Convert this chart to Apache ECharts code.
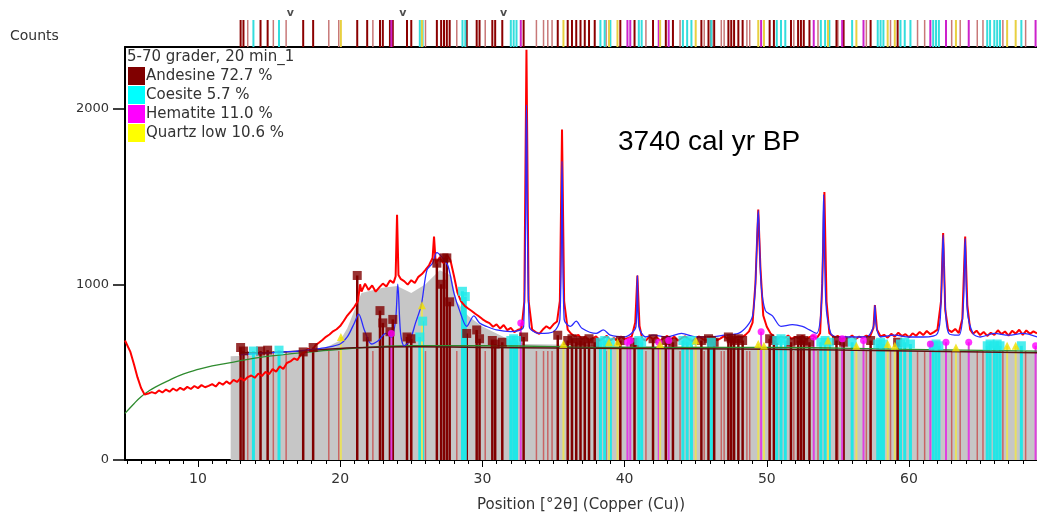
<!DOCTYPE html>
<html>
<head>
<meta charset="utf-8">
<script src="https://cdn.jsdelivr.net/npm/echarts@6/dist/echarts.min.js"></script>
<style>
  html, body { margin: 0; padding: 0; background: #fff; }
  #chart { width: 1037px; height: 515px; }
</style>
</head>
<body>
<div id="chart"></div>
<script>
'use strict';

var xTickLabels = [10, 20, 30, 40, 50, 60];
var yTickLabels = [0, 1000, 2000];

// observed counts (red)
var observed = [
  [4.87,680],[5.0,670],[5.25,615],[5.5,545],[5.75,470],[6.0,410],[6.25,372],[6.5,378],[6.75,386],[7.0,379],
  [7.25,396],[7.5,384],[7.75,401],[8.0,389],[8.25,407],[8.5,394],[8.75,411],[9.0,399],[9.25,416],[9.5,404],
  [9.75,421],[10.0,409],[10.25,426],[10.5,414],[10.75,422],[11.0,432],[11.25,418],[11.5,441],[11.75,428],[12.0,447],
  [12.25,433],[12.5,456],[12.75,444],[13.0,466],[13.25,452],[13.5,472],[13.75,481],[14.0,468],[14.25,492],[14.5,478],
  [14.75,501],[15.0,488],[15.25,517],[15.5,503],[15.75,533],[16.0,518],[16.25,552],[16.5,561],[16.75,578],[17.0,569],
  [17.25,602],[17.5,612],[17.75,633],[18.0,619],[18.25,652],[18.5,667],[18.75,683],[19.0,701],[19.25,714],[19.5,732],
  [19.75,744],[20.0,762],[20.25,791],[20.5,822],[20.75,846],[21.0,872],[21.25,905],[21.4,1000],[21.5,958],[21.75,1003],
  [22.0,968],[22.25,993],[22.5,958],[22.75,982],[23.0,1004],[23.25,987],[23.5,1022],[23.75,1008],[23.9,1045],[24.0,1395],
  [24.1,1052],[24.25,1031],[24.5,1018],[24.75,998],[25.0,1023],[25.25,1007],[25.5,1042],[25.75,1058],[26.0,1082],[26.25,1108],
  [26.5,1150],[26.6,1272],[26.7,1142],[26.75,1118],[27.0,1153],[27.25,1121],[27.5,1168],[27.75,1138],[28.0,1048],[28.25,952],
  [28.5,902],[28.75,878],[29.0,862],[29.25,848],[29.5,832],[29.75,818],[30.0,802],[30.25,788],[30.5,779],[30.75,758],
  [31.0,772],[31.25,748],[31.5,768],[31.75,739],[32.0,752],[32.25,728],[32.5,741],[32.75,746],[32.95,900],[33.1,2335],
  [33.25,905],[33.5,742],[33.75,728],[34.0,718],[34.25,742],[34.5,761],[34.75,748],[35.0,772],[35.25,788],[35.45,905],
  [35.6,1880],[35.75,902],[36.0,742],[36.25,718],[36.5,703],[36.75,712],[37.0,688],[37.25,702],[37.5,679],[37.75,693],
  [38.0,704],[38.25,678],[38.5,692],[38.75,706],[39.0,681],[39.25,694],[39.5,676],[39.75,703],[40.0,688],[40.25,694],
  [40.5,702],[40.75,782],[40.9,1050],[41.05,762],[41.25,688],[41.5,679],[41.75,703],[42.0,687],[42.25,701],[42.5,678],
  [42.75,694],[43.0,706],[43.25,686],[43.5,702],[43.75,679],[44.0,693],[44.25,704],[44.5,688],[44.75,677],[45.0,692],
  [45.25,703],[45.5,687],[45.75,679],[46.0,694],[46.25,702],[46.5,681],[46.75,692],[47.0,705],[47.25,688],[47.5,679],
  [47.75,693],[48.0,703],[48.25,698],[48.5,712],[48.75,732],[49.0,782],[49.2,1002],[49.4,1425],[49.55,1098],[49.75,822],
  [50.0,758],[50.25,722],[50.5,703],[50.75,688],[51.0,702],[51.25,694],[51.5,708],[51.75,689],[52.0,701],[52.25,692],
  [52.5,707],[52.75,686],[53.0,699],[53.25,708],[53.5,691],[53.75,722],[53.9,1005],[54.05,1525],[54.2,902],[54.4,721],
  [54.75,698],[55.0,706],[55.25,688],[55.5,701],[55.75,694],[56.0,708],[56.25,689],[56.5,702],[56.75,696],[57.0,707],
  [57.25,701],[57.5,752],[57.6,882],[57.75,741],[58.0,703],[58.25,712],[58.5,696],[58.75,718],[59.0,702],[59.25,724],
  [59.5,705],[59.75,716],[60.0,698],[60.25,721],[60.5,707],[60.75,729],[61.0,711],[61.25,734],[61.5,716],[61.75,728],
  [62.0,742],[62.25,902],[62.4,1292],[62.55,852],[62.75,742],[63.0,728],[63.25,746],[63.5,722],[63.75,802],[63.95,1272],
  [64.1,882],[64.3,742],[64.5,718],[64.75,736],[65.0,711],[65.25,729],[65.5,706],[65.75,724],[66.0,712],[66.25,738],
  [66.5,716],[66.75,731],[67.0,708],[67.25,735],[67.5,719],[67.75,741],[68.0,712],[68.25,737],[68.5,718],[68.75,732],
  [69.0,721]
];

// calculated profile (blue)
var calculated = [
  [13,600],[14,605],[15,610],[16,615],[17,620],[18,630],[19,640],[20,660],[20.5,700],[21.0,780],
  [21.3,830],[21.7,740],[22.2,660],[22.7,680],[23.2,720],[23.6,700],[23.9,800],[24.05,1000],[24.25,720],[24.5,650],
  [24.9,680],[25.3,780],[25.7,880],[26.1,1080],[26.5,1120],[26.8,1180],[27.2,1150],[27.6,1100],[28.0,950],[28.4,850],
  [28.9,760],[29.4,820],[29.8,780],[30.3,760],[31,740],[32,730],[32.9,760],[33.1,2020],[33.3,760],[34,720],
  [35,730],[35.45,800],[35.6,1700],[35.75,800],[36.2,760],[36.6,790],[37,750],[38,720],[38.5,740],[39,710],
  [40,700],[40.8,760],[40.9,1050],[41.0,760],[41.5,700],[42,710],[43,700],[44,720],[45,700],[46,700],
  [47,710],[48,720],[48.6,760],[49.0,820],[49.2,1000],[49.4,1420],[49.6,1000],[49.9,850],[50.4,820],[51,760],
  [51.8,770],[52.5,760],[53.0,740],[53.5,720],[53.85,900],[54.0,1510],[54.15,900],[54.5,720],[55,700],[56,700],
  [57,700],[57.5,760],[57.6,880],[57.7,760],[58,700],[59,710],[60,700],[61,700],[62,720],[62.25,900],
  [62.4,1280],[62.55,880],[62.8,720],[63.5,710],[63.8,850],[63.95,1260],[64.1,850],[64.5,720],[65,700],[66,720],
  [67,710],[68,720],[69,700]
];

var greenBackground = [
  [4.87,265],[5.5,320],[6,360],[6.5,390],[7,415],[8,455],[9,490],[10,515],[11,535],[12,550],
  [13,565],[14,580],[16,600],[18,615],[20,630],[25,650],[30,650],[40,640],[50,640],[60,630],[69,620]
];
var darkBackground = [
  [13,610],[16,615],[20,635],[25,645],[30,640],[40,635],[50,630],[60,620],[69,610]
];
var greyFill = [
  [12.3,590],[16,600],[19,640],[20,680],[20.5,750],[21,850],[21.5,950],[22,960],[23,980],[24,990],
  [25,950],[26,1000],[27,1080],[27.8,1050],[28.2,900],[29,820],[30,760],[31,720],[32,680],[33,660],
  [40,650],[50,640],[60,630],[69,610]
];

// reference patterns: [position, top]
var andesine = [
  [13.0,640],[13.2,620],[14.4,620],[14.9,625],[17.4,615],[18.1,640],[21.2,1050],[21.9,700],[22.8,850],[23.0,780],
  [23.5,730],[23.7,800],[24.7,700],[25.0,690],[26.8,1120],[27.1,1000],[27.3,1150],[27.5,1150],[27.7,900],[28.9,720],
  [29.6,740],[29.8,690],[30.7,680],[30.9,660],[31.4,670],[32.9,700],[35.3,710],[36.0,680],[36.3,690],[36.6,670],
  [36.9,680],[37.2,670],[37.5,690],[37.9,670],[39.7,680],[40.7,670],[42.0,690],[42.9,680],[43.4,670],[45.4,680],
  [45.9,690],[46.1,680],[46.3,670],[47.3,700],[47.5,690],[47.7,680],[48.0,690],[48.3,680],[50.2,690],[50.5,680],
  [51.7,670],[52.2,680],[52.4,690],[52.6,680],[53.0,670],[54.9,680],[55.4,670],[57.3,680],[59.2,670]
];
var andesineMinor = [
  13.5, 15.3, 16.2, 19.2, 19.9, 22.3, 26.0, 28.2, 30.2, 33.8, 34.3, 34.6, 34.9, 38.7, 41.5, 43.9, 45.6,
  46.8, 47.0, 48.6, 48.8, 51.9, 53.6, 55.0, 57.0, 58.7, 60.6, 61.1, 63.0, 63.6, 64.8, 65.2, 66.6, 68.2
];
var coesite = [
  [13.9,620],[15.7,625],[25.6,700],[25.8,790],[28.6,960],[28.8,930],[32.0,680],[32.2,690],[32.4,680],[38.3,670],
  [38.6,680],[39.0,670],[41.0,680],[41.2,670],[44.1,680],[44.4,670],[44.7,680],[46.1,670],[50.7,680],[51.0,690],
  [51.3,680],[53.8,670],[54.1,680],[54.4,670],[56.0,670],[57.8,660],[58.0,670],[58.2,660],[59.4,660],[59.7,670],
  [60.1,660],[61.7,650],[61.9,660],[62.1,650],[65.5,650],[65.7,660],[66.0,650],[66.2,660],[66.4,650],[67.9,650]
];
var hematite = [
  [23.6,720],[32.7,780],[40.2,670],[40.4,680],[42.4,670],[43.1,680],[49.6,730],[53.3,700],[55.3,690],[56.8,680],
  [61.5,660],[62.6,670],[64.2,670],[68.9,650]
];
var quartz = [
  [20.05,700],[25.75,880],[35.7,660],[38.9,670],[39.5,670],[42.5,660],[45.0,680],[49.4,660],[49.8,650],[54.3,680],
  [56.3,650],[58.5,660],[59.0,650],[63.3,640],[66.9,650],[67.5,650]
];
var minorTop = 620;
var stripMarks = [16.5, 24.4, 31.5];

var phaseNames = ['Andesine 72.7 %', 'Coesite 5.7 %', 'Hematite 11.0 %', 'Quartz low 10.6 %'];
var FONT = '"DejaVu Sans", Verdana, sans-serif';

function stick(color, width) {
  return function (params, api) {
    var p0 = api.coord([api.value(0), 0]);
    var p1 = api.coord([api.value(0), api.value(1)]);
    return {
      type: 'line',
      shape: { x1: p0[0], y1: p0[1], x2: p1[0], y2: p1[1] },
      style: { stroke: color, lineWidth: width }
    };
  };
}

function toStrip(list) {
  return list.map(function (d) { return [Array.isArray(d) ? d[0] : d, 1]; });
}

var minorTicks = [];
for (var t = 5; t <= 69; t++) minorTicks.push(t);

var chart = echarts.init(document.getElementById('chart'));

var option = {
  backgroundColor: '#fff',
  animation: false,
  title: {
    text: '5-70 grader, 20 min_1',
    left: 127, top: 50, padding: 0,
    textStyle: { fontFamily: FONT, fontSize: 15, fontWeight: 'normal', color: '#333' }
  },
  legend: {
    data: phaseNames,
    orient: 'vertical',
    left: 128, top: 67, padding: 0,
    itemWidth: 17, itemHeight: 18, itemGap: 1,
    icon: 'rect',
    textStyle: { fontFamily: FONT, fontSize: 15, color: '#333', padding: [0, 0, 0, -4] }
  },
  graphic: [
    { type: 'text', left: 10, top: 29, style: { text: 'Counts', font: '14px ' + FONT, fill: '#333' } },
    { type: 'text', left: 618, top: 128, style: { text: '3740 cal yr BP', font: '28px "Liberation Sans", Arial, sans-serif', fill: '#000' } }
  ],
  grid: [
    { left: 125, right: 0, top: 47, bottom: 55, outerBoundsMode: 'none' },
    { left: 125, right: 0, top: 20, height: 27, outerBoundsMode: 'none' }
  ],
  xAxis: [
    {
      gridIndex: 0, type: 'value', min: 4.87, max: 69,
      name: 'Position [°2θ] (Copper (Cu))', nameLocation: 'middle', nameGap: 38,
      nameTextStyle: { fontFamily: FONT, fontSize: 15, color: '#333' },
      axisLine: { lineStyle: { color: '#000', width: 2 } },
      axisTick: { customValues: xTickLabels, length: 7, lineStyle: { color: '#000' } },
      axisLabel: { customValues: xTickLabels, fontFamily: FONT, fontSize: 14, color: '#333', margin: 12 },
      splitLine: { show: false }
    },
    {
      gridIndex: 0, type: 'value', min: 4.87, max: 69, position: 'bottom',
      axisLine: { show: false },
      axisTick: { customValues: minorTicks, length: 4, lineStyle: { color: '#000' } },
      axisLabel: { show: false },
      splitLine: { show: false }
    },
    {
      gridIndex: 1, type: 'value', min: 4.87, max: 69,
      axisLine: { lineStyle: { color: '#000', width: 2 } },
      axisTick: { show: false }, axisLabel: { show: false }, splitLine: { show: false }
    }
  ],
  yAxis: [
    {
      gridIndex: 0, type: 'value', min: 0, max: 2350,
      axisLine: { show: true, lineStyle: { color: '#000', width: 2 } },
      axisTick: { show: true, customValues: yTickLabels, length: 12, lineStyle: { color: '#000', width: 1.5 } },
      axisLabel: {
        customValues: yTickLabels, fontFamily: FONT, fontSize: 13, color: '#333', margin: 16,
        formatter: function (v) { return String(v); }
      },
      splitLine: { show: false }
    },
    {
      gridIndex: 1, type: 'value', min: 0, max: 1,
      axisLine: { show: false }, axisTick: { show: false }, axisLabel: { show: false }, splitLine: { show: false }
    }
  ],
  series: [
    {
      name: 'fill', type: 'line', xAxisIndex: 0, yAxisIndex: 0, data: greyFill,
      symbol: 'none', lineStyle: { width: 0 }, areaStyle: { color: '#c6c6c6', opacity: 1 }, z: 1
    },
    {
      name: 'minor', type: 'custom', xAxisIndex: 0, yAxisIndex: 0, clip: true, z: 2,
      data: andesineMinor.map(function (p) { return [p, minorTop]; }),
      renderItem: stick('#c86464', 1.5)
    },
    { name: phaseNames[0], type: 'custom', xAxisIndex: 0, yAxisIndex: 0, clip: true, z: 2,
      itemStyle: { color: '#800000' }, data: andesine, renderItem: stick('#800000', 2.5) },
    { name: phaseNames[1], type: 'custom', xAxisIndex: 0, yAxisIndex: 0, clip: true, z: 2,
      itemStyle: { color: '#00ffff' }, data: coesite, renderItem: stick('#22e6e6', 3) },
    { name: phaseNames[2], type: 'custom', xAxisIndex: 0, yAxisIndex: 0, clip: true, z: 2,
      itemStyle: { color: '#ff00ff' }, data: hematite, renderItem: stick('#e040e0', 2) },
    { name: phaseNames[3], type: 'custom', xAxisIndex: 0, yAxisIndex: 0, clip: true, z: 2,
      itemStyle: { color: '#ffff00' }, data: quartz, renderItem: stick('#e8e060', 2) },
    {
      name: 'bg1', type: 'line', xAxisIndex: 0, yAxisIndex: 0, data: greenBackground, smooth: true,
      symbol: 'none', lineStyle: { color: '#2e8b2e', width: 1.3 }, z: 3
    },
    {
      name: 'bg2', type: 'line', xAxisIndex: 0, yAxisIndex: 0, data: darkBackground, smooth: true,
      symbol: 'none', lineStyle: { color: '#5a1010', width: 1.5 }, z: 3
    },
    {
      name: 'observed', type: 'line', xAxisIndex: 0, yAxisIndex: 0, data: observed,
      symbol: 'none', lineStyle: { color: '#ff0000', width: 2 }, z: 4
    },
    {
      name: 'calculated', type: 'line', xAxisIndex: 0, yAxisIndex: 0, data: calculated, smooth: 0.3,
      symbol: 'none', lineStyle: { color: '#2a2aff', width: 1.3 }, z: 5
    },
    { name: 'm1', type: 'scatter', xAxisIndex: 0, yAxisIndex: 0, data: andesine, symbol: 'rect', symbolSize: 9,
      itemStyle: { color: '#800000' }, z: 6 },
    { name: 'm2', type: 'scatter', xAxisIndex: 0, yAxisIndex: 0, data: coesite, symbol: 'rect', symbolSize: 9,
      itemStyle: { color: '#22eaea' }, z: 6 },
    { name: 'm3', type: 'scatter', xAxisIndex: 0, yAxisIndex: 0, data: hematite, symbol: 'circle', symbolSize: 7,
      itemStyle: { color: '#ff00ff' }, z: 6 },
    { name: 'm4', type: 'scatter', xAxisIndex: 0, yAxisIndex: 0, data: quartz, symbol: 'triangle', symbolSize: 8,
      itemStyle: { color: '#f0e000' }, z: 6 },
    // pattern strip above the plot
    { name: 's0', type: 'custom', xAxisIndex: 2, yAxisIndex: 1, data: toStrip(andesineMinor), renderItem: stick('#c87878', 1.5) },
    { name: 's1', type: 'custom', xAxisIndex: 2, yAxisIndex: 1, data: toStrip(andesine), renderItem: stick('#8b0000', 2) },
    { name: 's2', type: 'custom', xAxisIndex: 2, yAxisIndex: 1, data: toStrip(coesite), renderItem: stick('#33dddd', 2) },
    { name: 's3', type: 'custom', xAxisIndex: 2, yAxisIndex: 1, data: toStrip(hematite), renderItem: stick('#cc22cc', 2) },
    { name: 's4', type: 'custom', xAxisIndex: 2, yAxisIndex: 1, data: toStrip(quartz), renderItem: stick('#e8d040', 2) },
    {
      name: 'v', type: 'scatter', xAxisIndex: 2, yAxisIndex: 1, data: toStrip(stripMarks), symbolSize: 0,
      label: { show: true, position: 'top', distance: 1, formatter: 'v', fontFamily: FONT, fontSize: 11, fontWeight: 'bold', color: '#222' }
    }
  ]
};

chart.setOption(option);
</script>
</body>
</html>
